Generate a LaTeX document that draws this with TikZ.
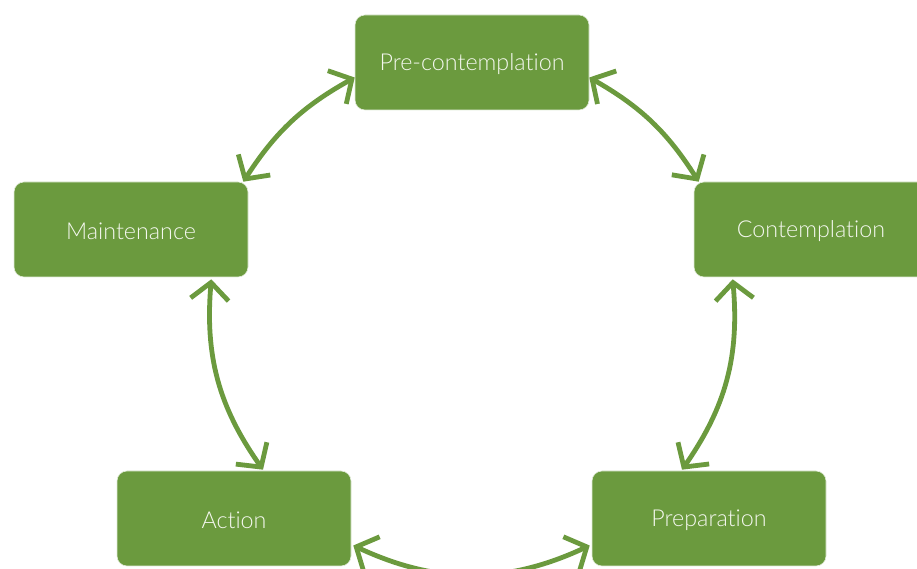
\documentclass[tikz,border=0pt]{standalone}
\usepackage{fontspec}
\setmainfont{Lato Light}[Ligatures={NoCommon}]
\usetikzlibrary{arrows.meta}
\definecolor{boxgreen}{RGB}{107,154,62}
\definecolor{txtwhite}{RGB}{245,248,240}
\newcommand{\stagetext}[1]{\raisebox{-2pt}[\height][\depth]{#1}}
\tikzset{
  stagebox/.style={draw=white!80!boxgreen, line width=0.6pt, fill=boxgreen, rounded corners=10pt,
    minimum width=234pt, minimum height=95pt, inner sep=0pt, text=txtwhite,
    font=\fontsize{23.3}{27}\selectfont},
  cyclearrow/.style={draw=boxgreen, line width=4.8pt,
    {Straight Barb[length=17pt,width=38pt]}-{Straight Barb[length=17pt,width=38pt]}},
}
\begin{document}
\begin{tikzpicture}[x=1pt,y=1pt]
\useasboundingbox (0,0) rectangle (917,569);
\clip (0,0) rectangle (917,569);
\node[stagebox] (pre) at (472,506.5) {\stagetext{Pre-contemplation}};
\node[stagebox] (cont) at (811,339.5) {\stagetext{Contemplation}};
\node[stagebox] (maint) at (131,339.5) {\stagetext{Maintenance}};
\node[stagebox] (act) at (234,50.5) {\stagetext{Action}};
\node[stagebox] (prep) at (709,50.5) {\stagetext{Preparation}};
\draw[cyclearrow] ([yshift=-15pt]pre.west) to[bend right=14] ([xshift=-5pt]maint.north east);
\draw[cyclearrow] ([yshift=-15pt]pre.east) to[bend left=14] ([xshift=5pt]cont.north west);
\draw[cyclearrow] ([xshift=39pt,yshift=-2pt]cont.south west) to[bend left=20] ([xshift=-27pt,yshift=1pt]prep.north);
\draw[cyclearrow] ([xshift=-37pt,yshift=-2pt]maint.south east) to[bend right=20] ([xshift=29pt,yshift=1pt]act.north);
\draw[cyclearrow] ([xshift=2pt,yshift=-27pt]act.east) to[bend right=25] ([xshift=-2pt,yshift=-27pt]prep.west);
\end{tikzpicture}
\end{document}
